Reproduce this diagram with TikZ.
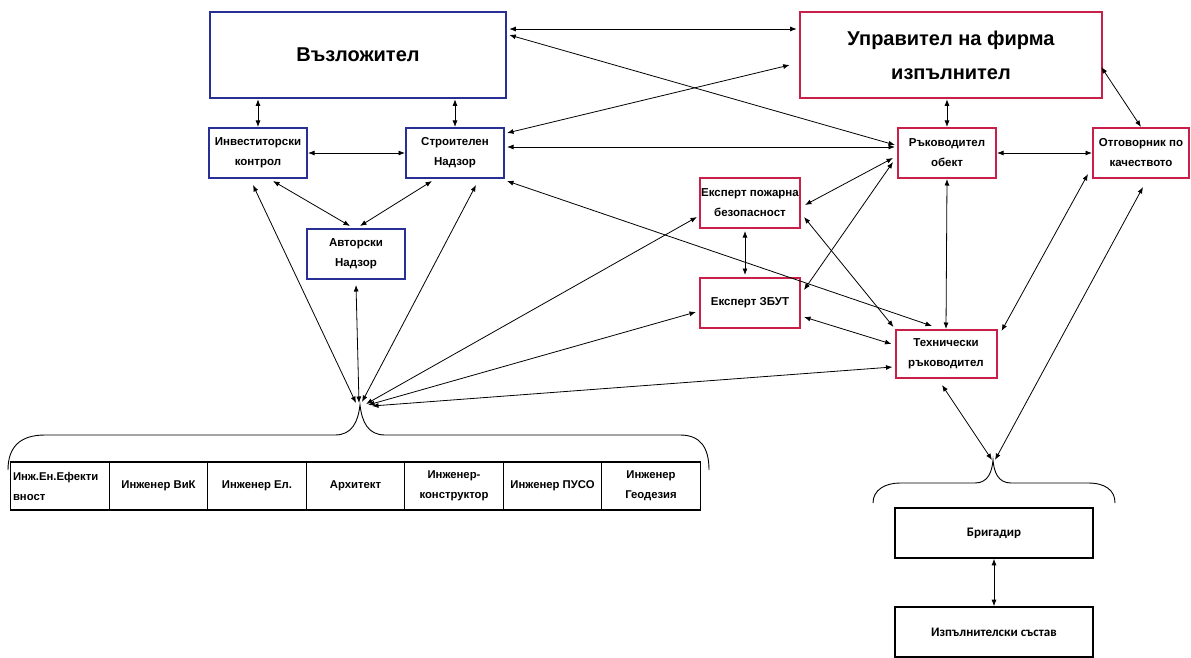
\documentclass[tikz,border=0pt]{standalone}
\usepackage{fontspec}
\setmainfont{Liberation Sans}
\newfontfamily\calfont{Carlito}
\usepackage{tikz}
\usetikzlibrary{arrows,arrows.meta,positioning,calc}
\definecolor{boxblue}{RGB}{40,48,150}
\definecolor{boxred}{RGB}{200,32,72}

\begin{document}
\begin{tikzpicture}[x=1pt, y=-1pt,
  every node/.style={font=\fontsize{11.5}{20}\selectfont\bfseries, align=center, inner sep=0pt},
  bigbox/.style={draw, line width=2.6pt, minimum width=296pt, minimum height=86pt, font=\fontsize{20}{34}\selectfont\bfseries},
  smallbox/.style={draw, line width=2pt, minimum width=98pt, minimum height=50pt},
  cell/.style={draw, line width=1.4pt, minimum width=98.5pt, minimum height=48pt, font=\fontsize{11.3}{20}\selectfont\bfseries},
  crewbox/.style={draw, line width=1.6pt, minimum width=198pt, minimum height=50pt, font=\fontsize{13}{16}\calfont\bfseries},
  link/.style={line width=0.8pt, {Latex[length=6.5pt,width=5pt]}-{Latex[length=6.5pt,width=5pt]}},
  brace/.style={line width=0.9pt}]

\useasboundingbox (0,0) rectangle (1191,658);

% client side
\node[bigbox, draw=boxblue] (vaz) at (358,55) {Възложител};
\node[smallbox, draw=boxblue] (ink) at (258,153) {Инвеститорски\\контрол};
\node[smallbox, draw=boxblue] (sn) at (455,153) {Строителен\\Надзор};
\node[smallbox, draw=boxblue] (an) at (356,254) {Авторски\\Надзор};

% contractor side
\node[bigbox, draw=boxred, minimum width=302pt] (upr) at (951,55) {Управител на фирма\\изпълнител};
\node[smallbox, draw=boxred] (ro) at (947,153) {Ръководител\\обект};
\node[smallbox, draw=boxred, minimum width=96pt] (ok) at (1141,153) {Отговорник по\\качеството};
\node[smallbox, draw=boxred, minimum width=100pt] (epb) at (750,203) {Експерт пожарна\\безопасност};
\node[smallbox, draw=boxred, minimum width=100pt] (ezb) at (750,303) {Експерт ЗБУТ};
\node[smallbox, draw=boxred, minimum width=101pt, minimum height=48pt] (tr) at (946,354) {Технически\\ръководител};

% designers row
\node[cell, align=left, text width=94pt] (c1) at (60,486) {Инж.Ен.Ефекти\\вност};
\foreach \i/\txt in {2/{Инженер ВиК},3/{Инженер Ел.},4/{Архитект},5/{Инженер-\\конструктор},6/{Инженер ПУСО},7/{Инженер\\Геодезия}}
  \node[cell] (c\i) at ($(60,486)+(98.5*\i-98.5,0)$) {\txt};

% crew
\node[crewbox] (brig) at (994,533) {Бригадир};
\node[crewbox] (izp) at (994,632) {Изпълнителски състав};

% braces
\coordinate (lt) at (360,405);
\coordinate (rt) at (993,460);
\draw[brace] (8,470) .. controls (8,447) and (20,435) .. (45,435) -- (335,435) .. controls (352,435) and (358,422) .. (lt)
  .. controls (362,422) and (368,435) .. (385,435) -- (680,435) .. controls (700,435) and (709,447) .. (709,470);
\draw[brace] (873,503) .. controls (873,490) and (885,483) .. (900,483) -- (975,483) .. controls (988,483) and (992,472) .. (rt)
  .. controls (994,472) and (998,483) .. (1011,483) -- (1088,483) .. controls (1105,483) and (1115,490) .. (1115,503);

% client links
\draw[link] (ink.north) -- (ink.north |- vaz.south);
\draw[link] (sn.north) -- (sn.north |- vaz.south);
\draw[link] (ink.east) -- (sn.west);
\draw[link] ($(ink.south)+(15,2)$) -- ($(an.north)+(-6,-2)$);
\draw[link] ($(sn.south)+(-23,2)$) -- ($(an.north)+(4,-2)$);

% across
\draw[link] ($(vaz.east)+(2,-26)$) -- ($(upr.west)+(-2,-26)$);
\draw[link] ($(vaz.east)+(2,-20)$) -- ($(ro.west)+(-2,-8)$);
\draw[link] ($(sn.east)+(2,-20)$) -- ($(upr.west)+(-9,10)$);
\draw[link] ($(sn.east)+(2,-6)$) -- ($(ro.west)+(-2,-6)$);
\draw[link] ($(sn.south east)+(2,2)$) -- ($(tr.north)+(-14,-3)$);

% contractor links
\draw[link] (ro.north) -- (ro.north |- upr.south);
\draw[link] ($(upr.east)+(-2,12)$) -- (ok.north);
\draw[link] (ro.east) -- (ok.west);
\draw[link] ($(ro.west)+(-4,5)$) -- ($(epb.east)+(4,2)$);
\draw[link] ($(ro.west)+(-4,9)$) -- ($(ezb.east)+(3,-13)$);
\draw[link] (ro.south) -- (tr.north);
\draw[link] ($(epb.south)+(-5,2)$) -- ($(ezb.north)+(-5,-2)$);
\draw[link] ($(epb.east)+(3,14)$) -- ($(tr.north west)+(-1,-2)$);
\draw[link] ($(ezb.east)+(3,14)$) -- ($(tr.west)+(-3,-10)$);
\draw[link] ($(ok.south west)+(-4,-5)$) -- ($(tr.north east)+(4,2)$);
\draw[link] ($(ok.south)+(2,8)$) -- ($(rt)+(2,0)$);
\draw[link] ($(tr.south)+(-4,6)$) -- ($(rt)+(-1,0)$);
\draw[link] (brig.south) -- (izp.north);

% into the designers brace
\draw[link] ($(ink.south)+(-5,6)$) -- ($(lt)+(-4,-2)$);
\draw[link] ($(an.south)+(0,5)$) -- ($(lt)+(-1,-2)$);
\draw[link] ($(sn.south)+(21,6)$) -- ($(lt)+(2,-3)$);
\draw[link] ($(epb.west)+(-2,14)$) -- ($(lt)+(6,-1)$);
\draw[link] ($(ezb.west)+(-3,9)$) -- ($(lt)+(8,0)$);
\draw[link] ($(tr.west)+(-2,13)$) -- ($(lt)+(12,1)$);
\end{tikzpicture}
\end{document}
